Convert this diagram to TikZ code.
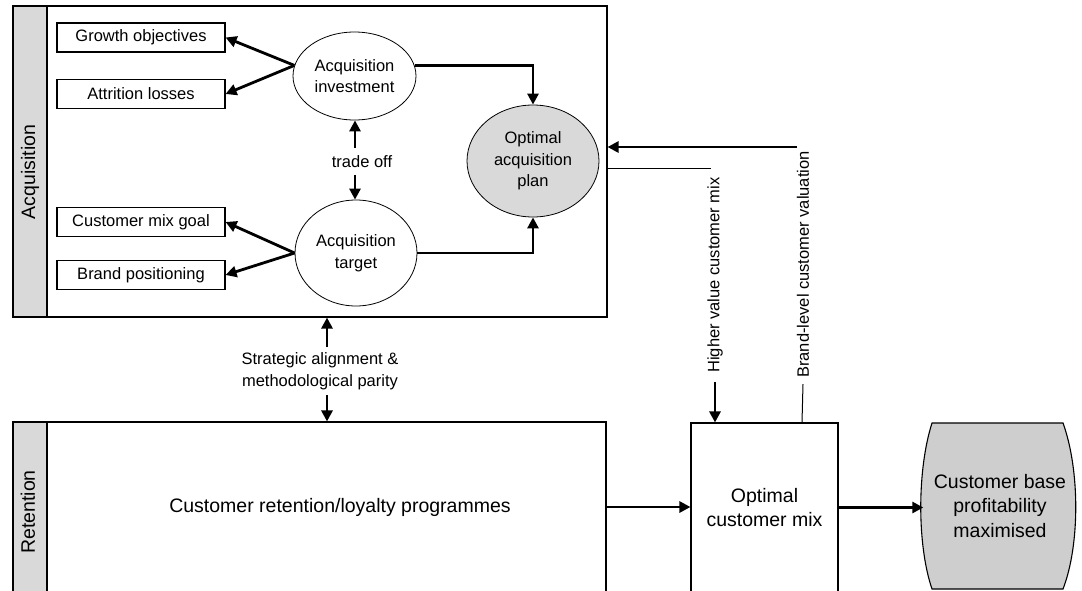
\documentclass[tikz,border=0pt]{standalone}
\usepackage{fontspec}
\setmainfont{Liberation Sans}
\usetikzlibrary{shapes.geometric,arrows.meta}
\definecolor{lgray}{RGB}{217,217,217}
\definecolor{bgray}{RGB}{206,206,206}
\begin{document}
\begin{tikzpicture}[x=1pt,y=-1pt,
  frame/.style={draw, line width=1.1pt, inner sep=0pt},
  box/.style={draw, line width=1.1pt, minimum width=168pt, minimum height=29pt, inner sep=0pt, font=\fontsize{16.5}{20}\selectfont},
  oval/.style={ellipse, draw, line width=0.8pt, inner sep=0pt, align=center, font=\fontsize{16.5}{21.5}\selectfont},
  arr/.style={line width=2.8pt, -{Triangle[length=11pt,width=11pt]}},
  thinline/.style={line width=1pt},
  lbl/.style={font=\fontsize{16.5}{22}\selectfont, align=center, inner sep=1pt},
  big/.style={font=\fontsize{19.5}{24.5}\selectfont, align=center, inner sep=0pt},
  strip/.style={draw, fill=lgray, line width=1.1pt}
]
\useasboundingbox (0,0) rectangle (1082,590);
\clip (0,0) rectangle (1082,590);

% Acquisition frame
\node[frame, minimum width=594pt, minimum height=311pt] (acq) at (310,161.5) {};
\draw[strip] (13,6) rectangle (47,317);
\node[big, rotate=90] (acqlbl) at (30,172) {Acquisition};

% Retention frame
\node[frame, minimum width=593pt, minimum height=170pt] (ret) at (309.5,507) {};
\draw[strip] (13,422) rectangle (47,592);
\node[big, rotate=90] (retlbl) at (28,512) {Retention};
\node[big] (rettxt) at (340,507) {Customer retention/loyalty programmes};

% small boxes
\node[box] (growth) at (141,37.5) {Growth objectives};
\node[box] (attr) at (141,94) {Attrition losses};
\node[box] (cmg) at (141,222) {Customer mix goal};
\node[box] (brand) at (141,275) {Brand positioning};

% ellipses
\node[oval, minimum width=123pt, minimum height=88pt] (inv) at (354.5,76) {Acquisition\\investment};
\node[oval, minimum width=122pt, minimum height=106pt] (tgt) at (356,253) {Acquisition\\target};
\node[oval, fill=lgray, minimum width=132pt, minimum height=112pt] (plan) at (533,161) {Optimal\\acquisition\\plan};

\draw[arr] (inv.170) -- (growth.east);
\draw[arr] (inv.170) -- (attr.east);
\draw[arr] (tgt.west) -- (cmg.east);
\draw[arr] (tgt.west) -- (brand.east);
\draw[arr] (inv.10) -| (plan.north);
\draw[arr] (tgt.east) -| (plan.south);

% trade off
\node[lbl] (trade) at (362,162) {trade off};
\coordinate (to1) at (355,148);
\coordinate (to2) at (355,175);
\draw[arr] (to1) -- (to1 |- inv.south);
\draw[arr] (to2) -- (to2 |- tgt.north);

% strategic alignment
\node[lbl] (strat) at (320,371) {Strategic alignment \&\\methodological parity};
\coordinate (sa1) at (327,347);
\coordinate (sa2) at (327,395);
\draw[arr] (sa1) -- (sa1 |- acq.south);
\draw[arr] (sa2) -- (sa2 |- ret.north);

% optimal customer mix
\node[frame, big, minimum width=147pt, minimum height=169pt] (mix) at (764.5,507.5) {Optimal\\customer mix};
\draw[arr] (ret.east) -- (ret.east -| mix.west);

% barrel
\draw[fill=bgray, line width=1.1pt] (932,423) -- (1063,423)
  .. controls (1080,470) and (1080,545) .. (1063,589)
  -- (932,589)
  .. controls (917,545) and (917,470) .. (932,423) -- cycle;
\node[big, minimum width=153pt, minimum height=166pt] (prof) at (1000,506) {Customer base\\profitability\\maximised};
\draw[arr] (mix.east) -- (mix.east -| prof.west);

% higher value customer mix
\coordinate (hv) at (711,168);
\draw[thinline] (hv -| acq.east) -- (hv);
\node[lbl, rotate=90] (hvl) at (715,275) {Higher value customer mix};
\coordinate (hvs) at (715,382);
\draw[arr] (hvs) -- (hvs |- mix.north);

% brand-level customer valuation
\coordinate (bv) at (797,147);
\draw[arr] (bv) -- (bv -| acq.east);
\node[lbl, rotate=90] (bvl) at (803,264.5) {Brand-level customer valuation};
\coordinate (bvb) at (803,384);
\coordinate (bvm) at (802,423);
\draw[thinline] (bvb) -- (bvm |- mix.north);
\end{tikzpicture}
\end{document}
